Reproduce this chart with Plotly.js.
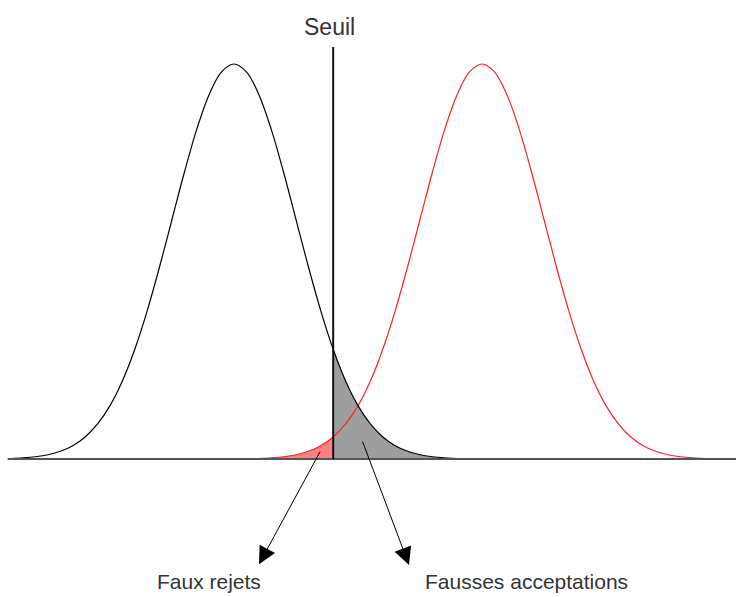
<!DOCTYPE html>
<html>
<head>
<meta charset="utf-8">
<script src="https://cdn.plot.ly/plotly-3.0.1.min.js"></script>
<style>html,body{margin:0;padding:0;background:#fff;}#chart{width:736px;height:597px;}</style>
</head>
<body>
<div id="chart"></div>
<script>
// Genuine (black) distribution (sigma units, peak = 1)
const blackX = [-3.6,-3.4,-3.2,-3.0,-2.8,-2.6,-2.4,-2.2,-2.0,-1.8,-1.6,-1.4,-1.2,-1.0,-0.8,-0.6,-0.4,-0.2,0,0.2,0.4,0.6,0.8,1.0,1.2,1.4,1.6,1.8,2.0,2.2,2.4,2.6,2.8,3.0,3.2,3.4,3.6];
const blackY = [0.0015,0.0031,0.0060,0.0111,0.0198,0.0340,0.0561,0.0889,0.1353,0.1979,0.2780,0.3753,0.4868,0.6065,0.7261,0.8353,0.9231,0.9802,1,0.9802,0.9231,0.8353,0.7261,0.6065,0.4868,0.3753,0.2780,0.1979,0.1353,0.0889,0.0561,0.0340,0.0198,0.0111,0.0060,0.0031,0.0015];
// Impostor (red) distribution
const redX = [0.4,0.6,0.8,1.0,1.2,1.4,1.6,1.8,2.0,2.2,2.4,2.6,2.8,3.0,3.2,3.4,3.6,3.8,4.0,4.2,4.4,4.6,4.8,5.0,5.2,5.4,5.6,5.8,6.0,6.2,6.4,6.6,6.8,7.0,7.2,7.4,7.6];
const redY = [0.0015,0.0031,0.0060,0.0111,0.0198,0.0340,0.0561,0.0889,0.1353,0.1979,0.2780,0.3753,0.4868,0.6065,0.7261,0.8353,0.9231,0.9802,1,0.9802,0.9231,0.8353,0.7261,0.6065,0.4868,0.3753,0.2780,0.1979,0.1353,0.0889,0.0561,0.0340,0.0198,0.0111,0.0060,0.0031,0.0015];
const threshold = 1.6;
const thresholdTop = 1.043;
const baselineX = [-3.65, 8.2];
const labels = ["Seuil", "Faux rejets", "Fausses acceptations"];

const gx = [], gy = [], rx = [], ry = [];
blackX.forEach((x,i)=>{ if (x >= threshold - 1e-9) { gx.push(x); gy.push(blackY[i]); } });
redX.forEach((x,i)=>{ if (x <= threshold + 1e-9) { rx.push(x); ry.push(redY[i]); } });

const traces = [
  {x: rx, y: ry, type:'scatter', mode:'lines', line:{width:0, shape:'spline'}, fill:'tozeroy', fillcolor:'#ff8080', hoverinfo:'skip'},
  {x: gx, y: gy, type:'scatter', mode:'lines', line:{width:0, shape:'spline'}, fill:'tozeroy', fillcolor:'#9e9e9e', hoverinfo:'skip'},
  {x: redX, y: redY, type:'scatter', mode:'lines', line:{color:'#ff2020', width:1.2, shape:'spline'}},
  {x: blackX, y: blackY, type:'scatter', mode:'lines', line:{color:'#000', width:1.2, shape:'spline'}},
  {x: baselineX, y: [0,0], type:'scatter', mode:'lines', line:{color:'#555', width:2}},
  {x: [threshold, threshold], y: [0, thresholdTop], type:'scatter', mode:'lines', line:{color:'#111', width:2}}
];

const font = {family:'"Liberation Sans", Arial, sans-serif', color:'#333'};
const layout = {
  width:736, height:597,
  margin:{l:0,r:0,t:0,b:0},
  paper_bgcolor:'#fff', plot_bgcolor:'#fff',
  showlegend:false,
  xaxis:{range:[-3.774, 8.097], visible:false, fixedrange:true},
  yaxis:{range:[-0.349, 1.162], visible:false, fixedrange:true},
  annotations:[
    {x:1.548, y:1.094, xref:'x', yref:'y', text:labels[0], showarrow:false, font:Object.assign({size:23}, font)},
    {x:(209-234)/62, y:-0.311, xref:'x', yref:'y', text:labels[1], showarrow:false, font:Object.assign({size:21}, font)},
    {x:(526.5-234)/62, y:-0.311, xref:'x', yref:'y', text:labels[2], showarrow:false, font:Object.assign({size:21}, font)},
    {x:0.403, y:-0.266, ax:1.403, ay:0.0228, xref:'x', yref:'y', axref:'x', ayref:'y', text:'', showarrow:true, arrowhead:2, arrowsize:3.5, arrowwidth:1, arrowcolor:'#000', standoff:0, startstandoff:0},
    {x:2.823, y:-0.268, ax:2.065, ay:0.048, xref:'x', yref:'y', axref:'x', ayref:'y', text:'', showarrow:true, arrowhead:2, arrowsize:3.5, arrowwidth:1, arrowcolor:'#000', standoff:0, startstandoff:0}
  ]
};
Plotly.newPlot('chart', traces, layout, {staticPlot:true, displayModeBar:false});
</script>
</body>
</html>
